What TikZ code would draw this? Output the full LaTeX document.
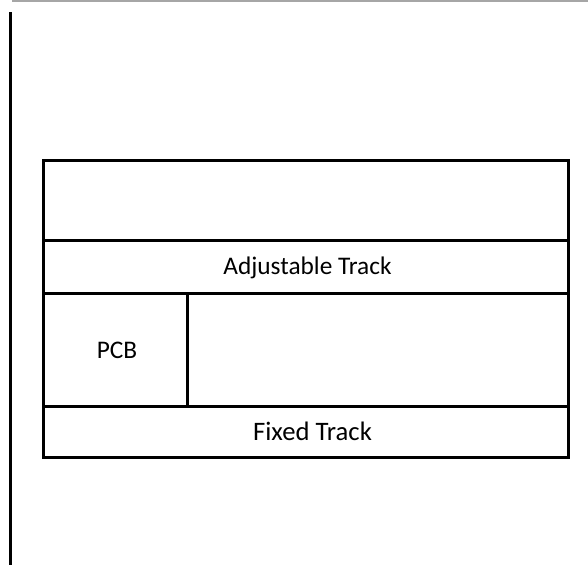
\documentclass[tikz,border=0pt]{standalone}
\usepackage{fontspec}
\setmainfont{Carlito}
\tikzset{
  cell/.style={draw=black,line width=2.25pt,inner sep=0pt,outer sep=0pt,anchor=center},
  celltext/.style={inner sep=0pt,outer sep=0pt,font=\fontsize{19pt}{22pt}\selectfont,text height=12.2pt,text depth=0pt,anchor=center},
  bigtext/.style={celltext,font=\fontsize{20pt}{22pt}\selectfont,text height=12.8pt},
  rule/.style={line width=2.25pt,draw=black},
  topline/.style={line width=1.2pt,draw=black!35}
}
\begin{document}
\begin{tikzpicture}[x=0.75pt,y=-0.75pt]
\useasboundingbox (0,0) rectangle (588,565);
\fill[white] (0,0) rectangle (588,565);
\coordinate (ta) at (12,0.7);
\coordinate (tb) at (588,0.7);
\coordinate (va) at (10.5,12);
\coordinate (vb) at (10.5,565);
\draw[topline] (ta) -- (tb);
\draw[rule] (va) -- (vb);
\node[cell,minimum width=525pt*0.75,minimum height=80pt*0.75] (blank) at (306,200.5) {};
\node[cell,minimum width=525pt*0.75,minimum height=53pt*0.75] (adj) at (306,267) {};
\node[cell,minimum width=144pt*0.75,minimum height=113pt*0.75] (pcb) at (115.5,350) {};
\node[cell,minimum width=381pt*0.75,minimum height=113pt*0.75] (free) at (378,350) {};
\node[cell,minimum width=525pt*0.75,minimum height=51pt*0.75] (fix) at (306,432) {};
\node[celltext] (adjtext) at (307.5,266) {Adjustable Track};
\node[celltext] (pcbtext) at (117,350) {PCB};
\node[bigtext] (fixtext) at (312.5,432) {Fixed Track};
\end{tikzpicture}
\end{document}
